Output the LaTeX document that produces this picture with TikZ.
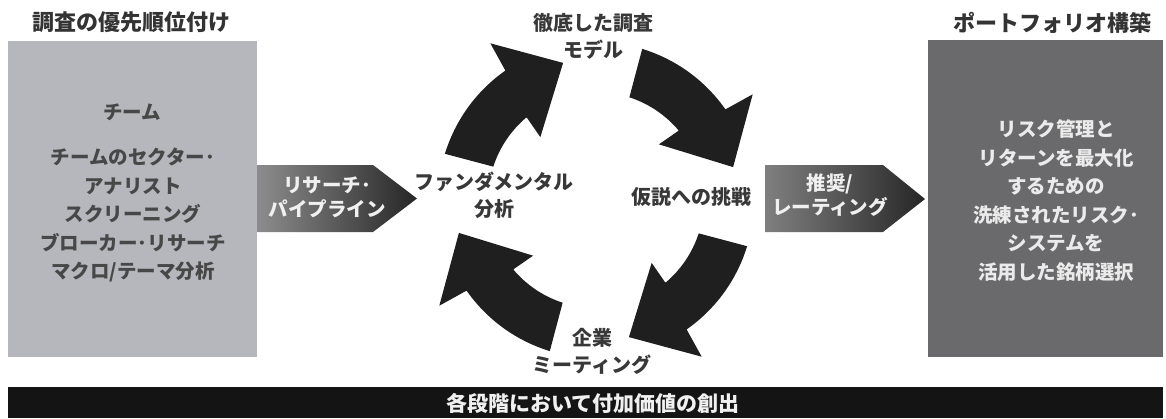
\documentclass[tikz,border=0pt]{standalone}
\usepackage{fontspec}
\setmainfont{Noto Sans CJK JP}
\begin{document}
\begin{tikzpicture}[x=1pt,y=1pt,
  hdr/.style={font=\fontsize{22}{26}\selectfont\bfseries, text=black!80},
  boxtext/.style={font=\fontsize{19.5}{28.5}\selectfont\bfseries, align=center, inner sep=0pt},
  lbl/.style={font=\fontsize{20}{27}\selectfont\bfseries, align=center, text=black!78, inner sep=0pt},
  arrtext/.style={font=\fontsize{19.5}{24}\selectfont\bfseries, align=center, text=white!94!black, inner sep=0pt},
  cyc/.style={fill=black!88}
]
\useasboundingbox (0,0) rectangle (1166,-418);
% boxes
\fill[fill={rgb,255:red,182;green,183;blue,188}] (8,-41) rectangle (257,-357);
\fill[fill={rgb,255:red,106;green,106;blue,109}] (928,-40) rectangle (1163,-357);
% headers
\node[hdr] (h1) at (131,-22) {調査の優先順位付け};
\node[hdr] (h2) at (1052,-23) {ポートフォリオ構築};
% left box text
\node[boxtext, text=black!72] (team) at (132,-112) {チーム};
\node[boxtext, text=black!72] (list) at (133,-215) {チームのセクター･\\アナリスト\\スクリーニング\\ブローカー･リサーチ\\マクロ/テーマ分析};
% right box text
\node[boxtext, text=white!92!black] (port) at (1056,-200.5) {リスク管理と\\リターンを最大化\\するための\\洗練されたリスク･\\システムを\\活用した銘柄選択};
% pipeline arrow
\shade[left color=black!45, right color=black!85] (257,-165) -- (373,-165) -- (417,-198.5) -- (373,-232) -- (257,-232) -- cycle;
\node[arrtext] (pipe) at (327,-197) {リサーチ･\\パイプライン};
% recommendation arrow
\shade[left color=black!50, right color=black!85] (765,-165) -- (883,-165) -- (925,-199) -- (883,-232) -- (765,-232) -- cycle;
\node[arrtext] (rec) at (830,-195) {推奨/\\レーティング};
% cycle arrows
\foreach \r in {0,-90,-180,-270}{
  \begin{scope}[shift={(596,-200)},rotate=\r]
    \fill[cyc] (163:158pt) arc[start angle=163, end angle=125, radius=158pt]
      -- (124:189pt) -- (103.5:141pt) -- (131.5:84pt) -- (130:108pt)
      arc[start angle=130, end angle=162, radius=108pt] -- cycle;
  \end{scope}
}
% cycle labels
\node[lbl] (model) at (593,-36) {徹底した調査\\モデル};
\node[lbl] (fund) at (494,-195) {ファンダメンタル\\分析};
\node[lbl] (hyp) at (691,-197) {仮説への挑戦};
\node[lbl] (meet) at (592,-351) {企業\\ミーティング};
% bottom bar
\fill[black!92] (8,-387) rectangle (1163,-418);
\node[font=\fontsize{21}{24}\selectfont\bfseries, text=white!94!black] (bar) at (593,-403) {各段階において付加価値の創出};
\end{tikzpicture}
\end{document}
